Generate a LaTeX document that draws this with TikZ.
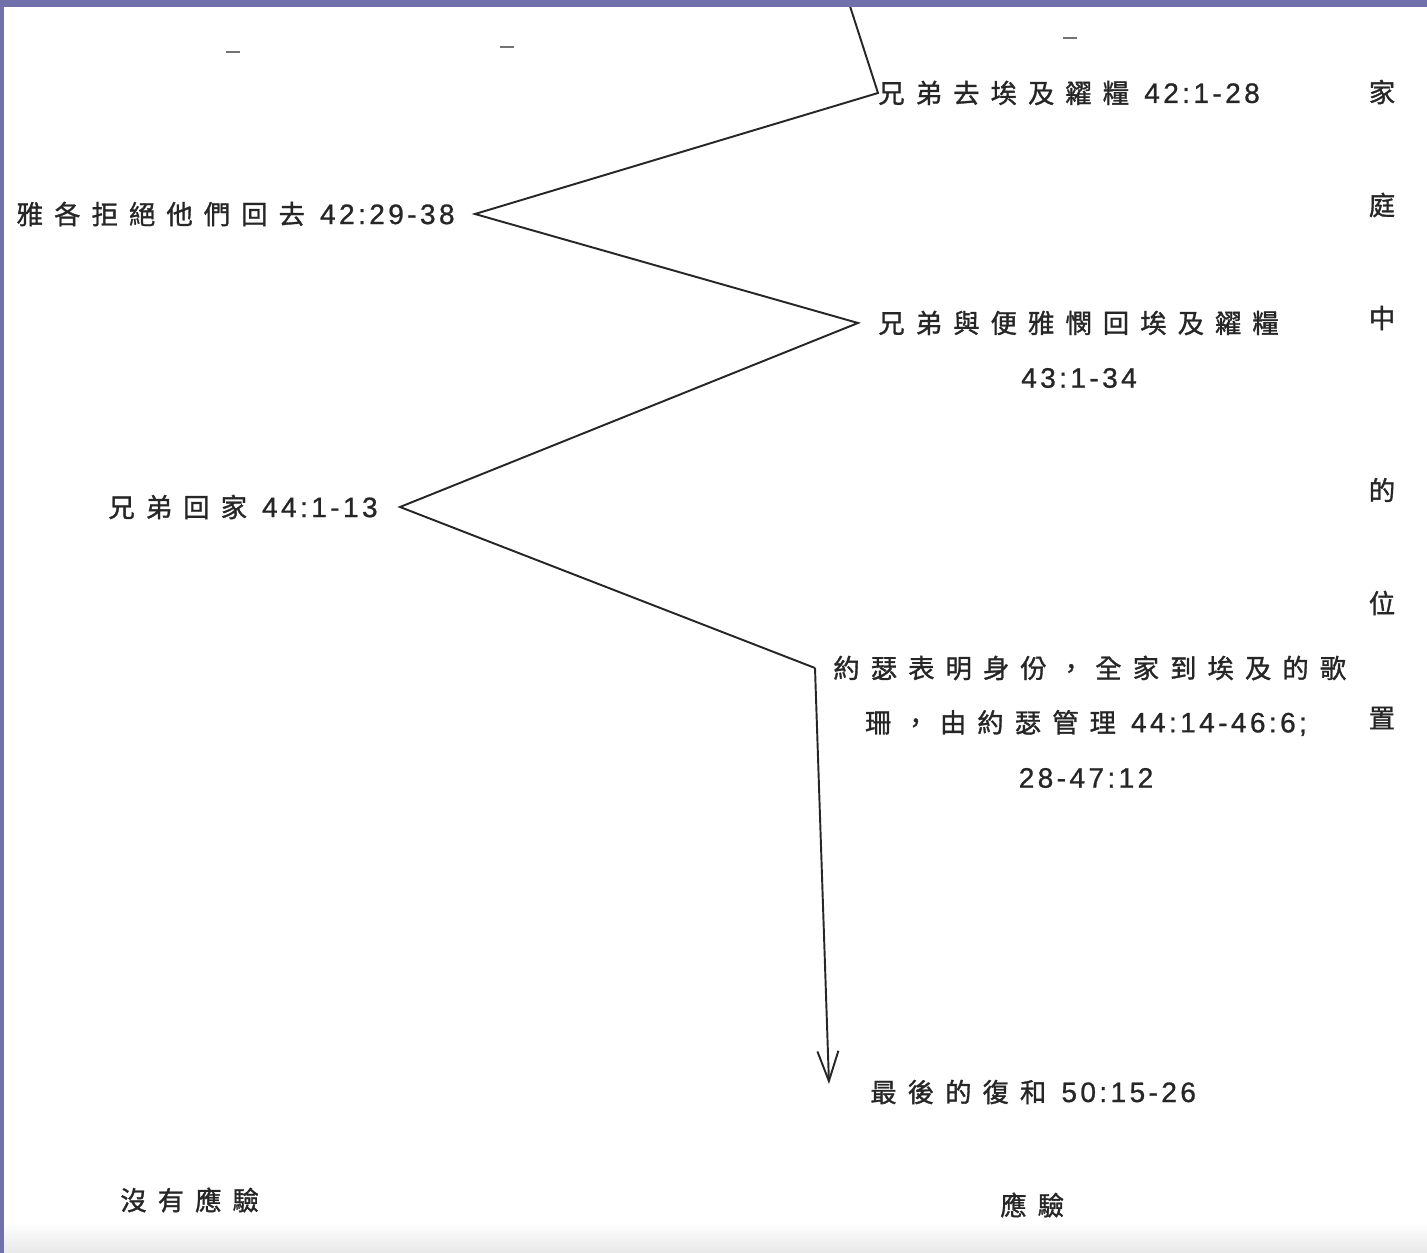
\documentclass[tikz,border=0pt]{standalone}
\usepackage{fontspec}
\usetikzlibrary{arrows.meta}
\newfontfamily\cjk[LetterSpace=42, FakeBold=1.2]{Noto Sans CJK TC}
\newfontfamily\num[LetterSpace=12, FakeBold=0.8]{Liberation Sans}
\newcommand\lblfont{\fontsize{15}{18}\selectfont\cjk}
\newcommand\chap[1]{{\hspace{0.3cm}\fontsize{16}{18}\selectfont\num #1}}
\definecolor{scanedge}{RGB}{112,112,170}
\tikzset{
  lbl/.style={inner sep=0pt, font=\lblfont, text=black!85},
  zig/.style={line width=1.1pt, draw=black!85},
}

\begin{document}
\begin{tikzpicture}[x=0.02cm, y=-0.02cm]
		%%%%% START %%%%%
		\useasboundingbox (0,0) rectangle (1427,1253);
		
		\node[lbl, anchor=west] (n1) at (878,93) {兄弟去埃及糴糧\chap{42:1-28}};
		\node[lbl, anchor=east, inner xsep=0.4cm] (n2) at (475,214) {雅各拒絕他們回去\chap{42:29-38}};
		\node[lbl, anchor=west, inner xsep=0.4cm] (n3) at (858,323) {兄弟與便雅憫回埃及糴糧};
		\node[lbl] (n3b) at (1079,378) {{\num\fontsize{16}{18}\selectfont 43:1-34}};
		\node[lbl, anchor=east, inner xsep=0.44cm] (n4) at (400,507) {兄弟回家\chap{44:1-13}};
		\node[lbl, anchor=west, inner xsep=0.36cm] (n5) at (815,668) {約瑟表明身份，全家到埃及的歌};
		\node[lbl] (n5b) at (1086,723) {珊，由約瑟管理\chap{44:14-46:6;}};
		\node[lbl] (n5c) at (1086,778) {{\num\fontsize{16}{18}\selectfont 28-47:12}};
		\node[lbl, anchor=west] (n6) at (870,1092) {最後的復和\chap{50:15-26}};
		
		\node[lbl, anchor=west] (nofulfil) at (120,1200) {沒有應驗};
		\node[lbl, anchor=west] (fulfil) at (1000,1205) {應驗};
		
		\foreach \ch/\yy [count=\i] in {家/92, 庭/205, 中/318, 的/490, 位/603, 置/718}
			\node[lbl] (side\i) at (1382,\yy) {\ch};
		
		\coordinate (start) at (848,0);
		\coordinate (tip) at (829,1084);
		
		\draw[zig, line join=miter] (start) -- (n1.west) -- (n2.east) -- (n3.west) -- (n4.east) -- (n5.west);
		\draw[zig, -{Straight Barb[length=0.6cm, width=0.42cm, line width=1.1pt]}] (n5.west) -- (tip);
		
		% specks at the top of the page
		\draw[black!55, line width=1.4pt] (226,52) -- (240,52);
		\draw[black!55, line width=1.4pt] (500,47) -- (514,47);
		\draw[black!55, line width=1.4pt] (1063,38) -- (1077,38);
		
		% scan edges
		\shade[top color=white, bottom color=black!9] (4,1222) rectangle (1427,1253);
		\fill[scanedge] (0,0) rectangle (1427,7);
		\fill[scanedge] (0,0) rectangle (4,1253);
		%%%%% END %%%%%
	\end{tikzpicture}
\end{document}
